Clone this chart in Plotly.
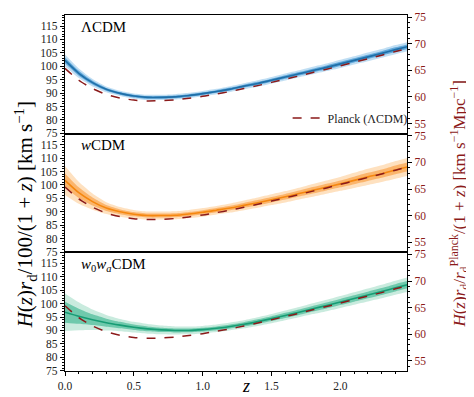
import plotly.graph_objects as go
from plotly.subplots import make_subplots

# ---------------- data ----------------
z = [0.0, 0.1, 0.2, 0.3, 0.4, 0.5, 0.6, 0.7, 0.8, 0.9, 1.0, 1.1, 1.2,
     1.3, 1.4, 1.5, 1.6, 1.7, 1.8, 1.9, 2.0, 2.1, 2.2, 2.3, 2.4, 2.5]

planck = [99.2, 94.8, 91.7, 89.5, 88.2, 87.4, 87.1, 87.2, 87.5, 88.1, 88.8,
          89.7, 90.6, 91.7, 92.8, 94.0, 95.2, 96.4, 97.7, 98.9, 100.2,
          101.5, 102.8, 104.1, 105.5, 106.8]

lcdm_mean = [102.2, 97.4, 93.9, 91.4, 89.9, 88.9, 88.4, 88.4, 88.6, 89.1, 89.8,
             90.6, 91.5, 92.6, 93.6, 94.8, 96.0, 97.2, 98.4, 99.6, 100.9,
             102.2, 103.5, 104.8, 106.2, 107.5]
lcdm_s1 = [1.1, 0.9, 0.7, 0.55, 0.5, 0.5, 0.5, 0.5, 0.5, 0.5, 0.5, 0.5, 0.55,
           0.55, 0.6, 0.6, 0.65, 0.65, 0.7, 0.7, 0.75, 0.75, 0.8, 0.8, 0.85, 0.85]
lcdm_s2 = [2.2, 1.8, 1.4, 1.1, 1.0, 1.0, 1.0, 1.0, 1.0, 1.0, 1.0, 1.0, 1.1,
           1.1, 1.2, 1.2, 1.3, 1.3, 1.4, 1.4, 1.5, 1.5, 1.6, 1.6, 1.7, 1.7]

wcdm_mean = [101.7, 97.1, 93.8, 91.4, 90.0, 89.1, 88.6, 88.6, 88.7, 89.2, 89.8,
             90.6, 91.4, 92.4, 93.4, 94.5, 95.6, 96.8, 98.0, 99.2, 100.4,
             101.7, 103.0, 104.2, 105.6, 106.9]
wcdm_s1 = [2.6, 2.0, 1.5, 1.1, 0.9, 0.8, 0.75, 0.75, 0.75, 0.75, 0.8, 0.8, 0.85,
           0.9, 0.95, 1.0, 1.05, 1.1, 1.2, 1.25, 1.3, 1.4, 1.5, 1.55, 1.65, 1.7]
wcdm_s2 = [5.4, 4.1, 3.0, 2.2, 1.8, 1.6, 1.5, 1.5, 1.5, 1.5, 1.6, 1.6, 1.7,
           1.8, 1.9, 2.0, 2.1, 2.2, 2.4, 2.5, 2.6, 2.8, 3.0, 3.1, 3.3, 3.4]

w0wa_mean = [96.8, 95.3, 94.0, 92.9, 92.0, 91.2, 90.6, 90.2, 90.0, 90.0, 90.3,
             90.8, 91.5, 92.3, 93.3, 94.4, 95.6, 96.8, 98.1, 99.3, 100.6,
             101.9, 103.2, 104.5, 105.9, 107.2]
w0wa_s1 = [3.9, 2.8, 2.0, 1.5, 1.2, 1.0, 0.9, 0.8, 0.75, 0.7, 0.7, 0.7, 0.75,
           0.8, 0.85, 0.9, 0.95, 1.0, 1.05, 1.1, 1.15, 1.2, 1.25, 1.3, 1.35, 1.4]
w0wa_s2 = [7.0, 5.2, 3.8, 2.9, 2.3, 2.0, 1.8, 1.6, 1.5, 1.45, 1.4, 1.4, 1.45,
           1.5, 1.6, 1.7, 1.8, 1.9, 2.0, 2.1, 2.2, 2.3, 2.4, 2.5, 2.6, 2.7]

panel_labels = ["ΛCDM", "<i>w</i>CDM", "<i>w</i><sub>0</sub><i>w</i><sub><i>a</i></sub>CDM"]
left_ticks = [75, 80, 85, 90, 95, 100, 105, 110, 115]
right_ticks = [55, 60, 65, 70, 75]
x_ticks = [0.0, 0.5, 1.0, 1.5, 2.0]

# ---------------- styling ----------------
models = [
    (lcdm_mean, lcdm_s1, lcdm_s2, "#1f6fa8", "rgba(66,150,210,0.75)", "rgba(150,200,235,0.6)"),
    (wcdm_mean, wcdm_s1, wcdm_s2, "#f5870f", "rgba(250,165,80,0.75)", "rgba(253,205,150,0.6)"),
    (w0wa_mean, w0wa_s1, w0wa_s2, "#179c74", "rgba(80,190,155,0.75)", "rgba(165,222,200,0.6)"),
]
FONT = "Liberation Serif"
RED = "#8b1a1a"
SM = 0.6

fig = make_subplots(rows=3, cols=1, shared_xaxes=True, vertical_spacing=0,
                    specs=[[{"secondary_y": True}]] * 3)

for i, (mean, s1, s2, lc, c1, c2) in enumerate(models):
    row = i + 1
    for s, col in ((s2, c2), (s1, c1)):
        lo = [m - d for m, d in zip(mean, s)]
        hi = [m + d for m, d in zip(mean, s)]
        fig.add_trace(go.Scatter(x=z, y=lo, mode="lines",
                                 line=dict(width=0, shape="spline", smoothing=SM),
                                 showlegend=False, hoverinfo="skip"), row=row, col=1)
        fig.add_trace(go.Scatter(x=z, y=hi, mode="lines",
                                 line=dict(width=0, shape="spline", smoothing=SM),
                                 fill="tonexty", fillcolor=col,
                                 showlegend=False, hoverinfo="skip"), row=row, col=1)
    fig.add_trace(go.Scatter(x=z, y=mean, mode="lines",
                             line=dict(color=lc, width=1.6, shape="spline", smoothing=SM),
                             showlegend=False), row=row, col=1)
    fig.add_trace(go.Scatter(x=z, y=planck, mode="lines", name="Planck (ΛCDM)",
                             line=dict(color=RED, width=1.5, dash="dash", shape="spline", smoothing=SM),
                             showlegend=(i == 0)), row=row, col=1)
    # invisible trace to activate the secondary axis
    fig.add_trace(go.Scatter(x=[1.0], y=[65], mode="markers", marker=dict(opacity=0),
                             showlegend=False, hoverinfo="skip"), row=row, col=1, secondary_y=True)

    fig.add_annotation(text=panel_labels[i], xref="x domain", yref="y domain",
                       x=0.04, y=0.985, xanchor="left", yanchor="top", showarrow=False,
                       font=dict(family=FONT, size=15, color="black"), row=row, col=1)

for row in (1, 2, 3):
    fig.update_xaxes(range=[0, 2.485], showline=True, linecolor="black", linewidth=1.2,
                     mirror=True, showgrid=False, zeroline=False,
                     tickvals=x_ticks, ticktext=["0.0", "0.5", "1.0", "1.5", "2.0"],
                     ticks="outside" if row == 3 else "", ticklen=4, tickcolor="black",
                     minor=dict(dtick=0.1, ticks="outside" if row == 3 else "", ticklen=2,
                                tickcolor="black", showgrid=False),
                     showticklabels=(row == 3),
                     tickfont=dict(family=FONT, size=11.5, color="#222"),
                     row=row, col=1)
    fig.update_yaxes(range=[74.9, 119.1], showline=True, linecolor="black", linewidth=1.2,
                     mirror=True, showgrid=False, zeroline=False,
                     tickvals=left_ticks, ticks="outside", ticklen=4, tickcolor="black",
                     minor=dict(dtick=1, ticks="outside", ticklen=2, tickcolor="black", showgrid=False),
                     tickfont=dict(family=FONT, size=11.5, color="#222"),
                     row=row, col=1, secondary_y=False)
    fig.update_yaxes(range=[53.1, 75.4], showline=False, showgrid=False, zeroline=False,
                     tickvals=right_ticks, ticks="outside", ticklen=4, tickcolor="black",
                     minor=dict(dtick=1, ticks="outside", ticklen=2, tickcolor="black", showgrid=False),
                     tickfont=dict(family=FONT, size=11.5, color=RED),
                     row=row, col=1, secondary_y=True)

fig.add_annotation(text="<i>H</i>(<i>z</i>)<i>r</i><sub>d</sub>/100/(1 + <i>z</i>) [km s<sup>−1</sup>]",
                   xref="paper", yref="paper", x=-0.11, y=0.44, textangle=-90,
                   xanchor="center", yanchor="middle", showarrow=False,
                   font=dict(family=FONT, size=21, color="black"))
fig.add_annotation(text="<i>H</i>(<i>z</i>)<i>r</i><sub>d</sub>/<i>r</i><sub>d</sub><sup>Planck</sup>/(1 + <i>z</i>) [km s<sup>−1</sup>Mpc<sup>−1</sup>]",
                   xref="paper", yref="paper", x=1.085, y=0.47, textangle=-90,
                   xanchor="center", yanchor="middle", showarrow=False,
                   font=dict(family=FONT, size=17, color=RED))
fig.add_annotation(text="<i>z</i>", xref="paper", yref="paper", x=0.497, y=-0.043,
                   xanchor="center", yanchor="middle", showarrow=False,
                   font=dict(family=FONT, size=18, color="black"))

fig.update_layout(
    width=474, height=397,
    margin=dict(l=57, r=53, t=3, b=34),
    paper_bgcolor="white", plot_bgcolor="white",
    showlegend=True,
    legend=dict(x=0.955, y=0.711, xanchor="right", yanchor="middle",
                bgcolor="rgba(0,0,0,0)", itemwidth=30, tracegroupgap=0,
                font=dict(family=FONT, size=12, color="#222")),
)

fig.write_html("out.html")
